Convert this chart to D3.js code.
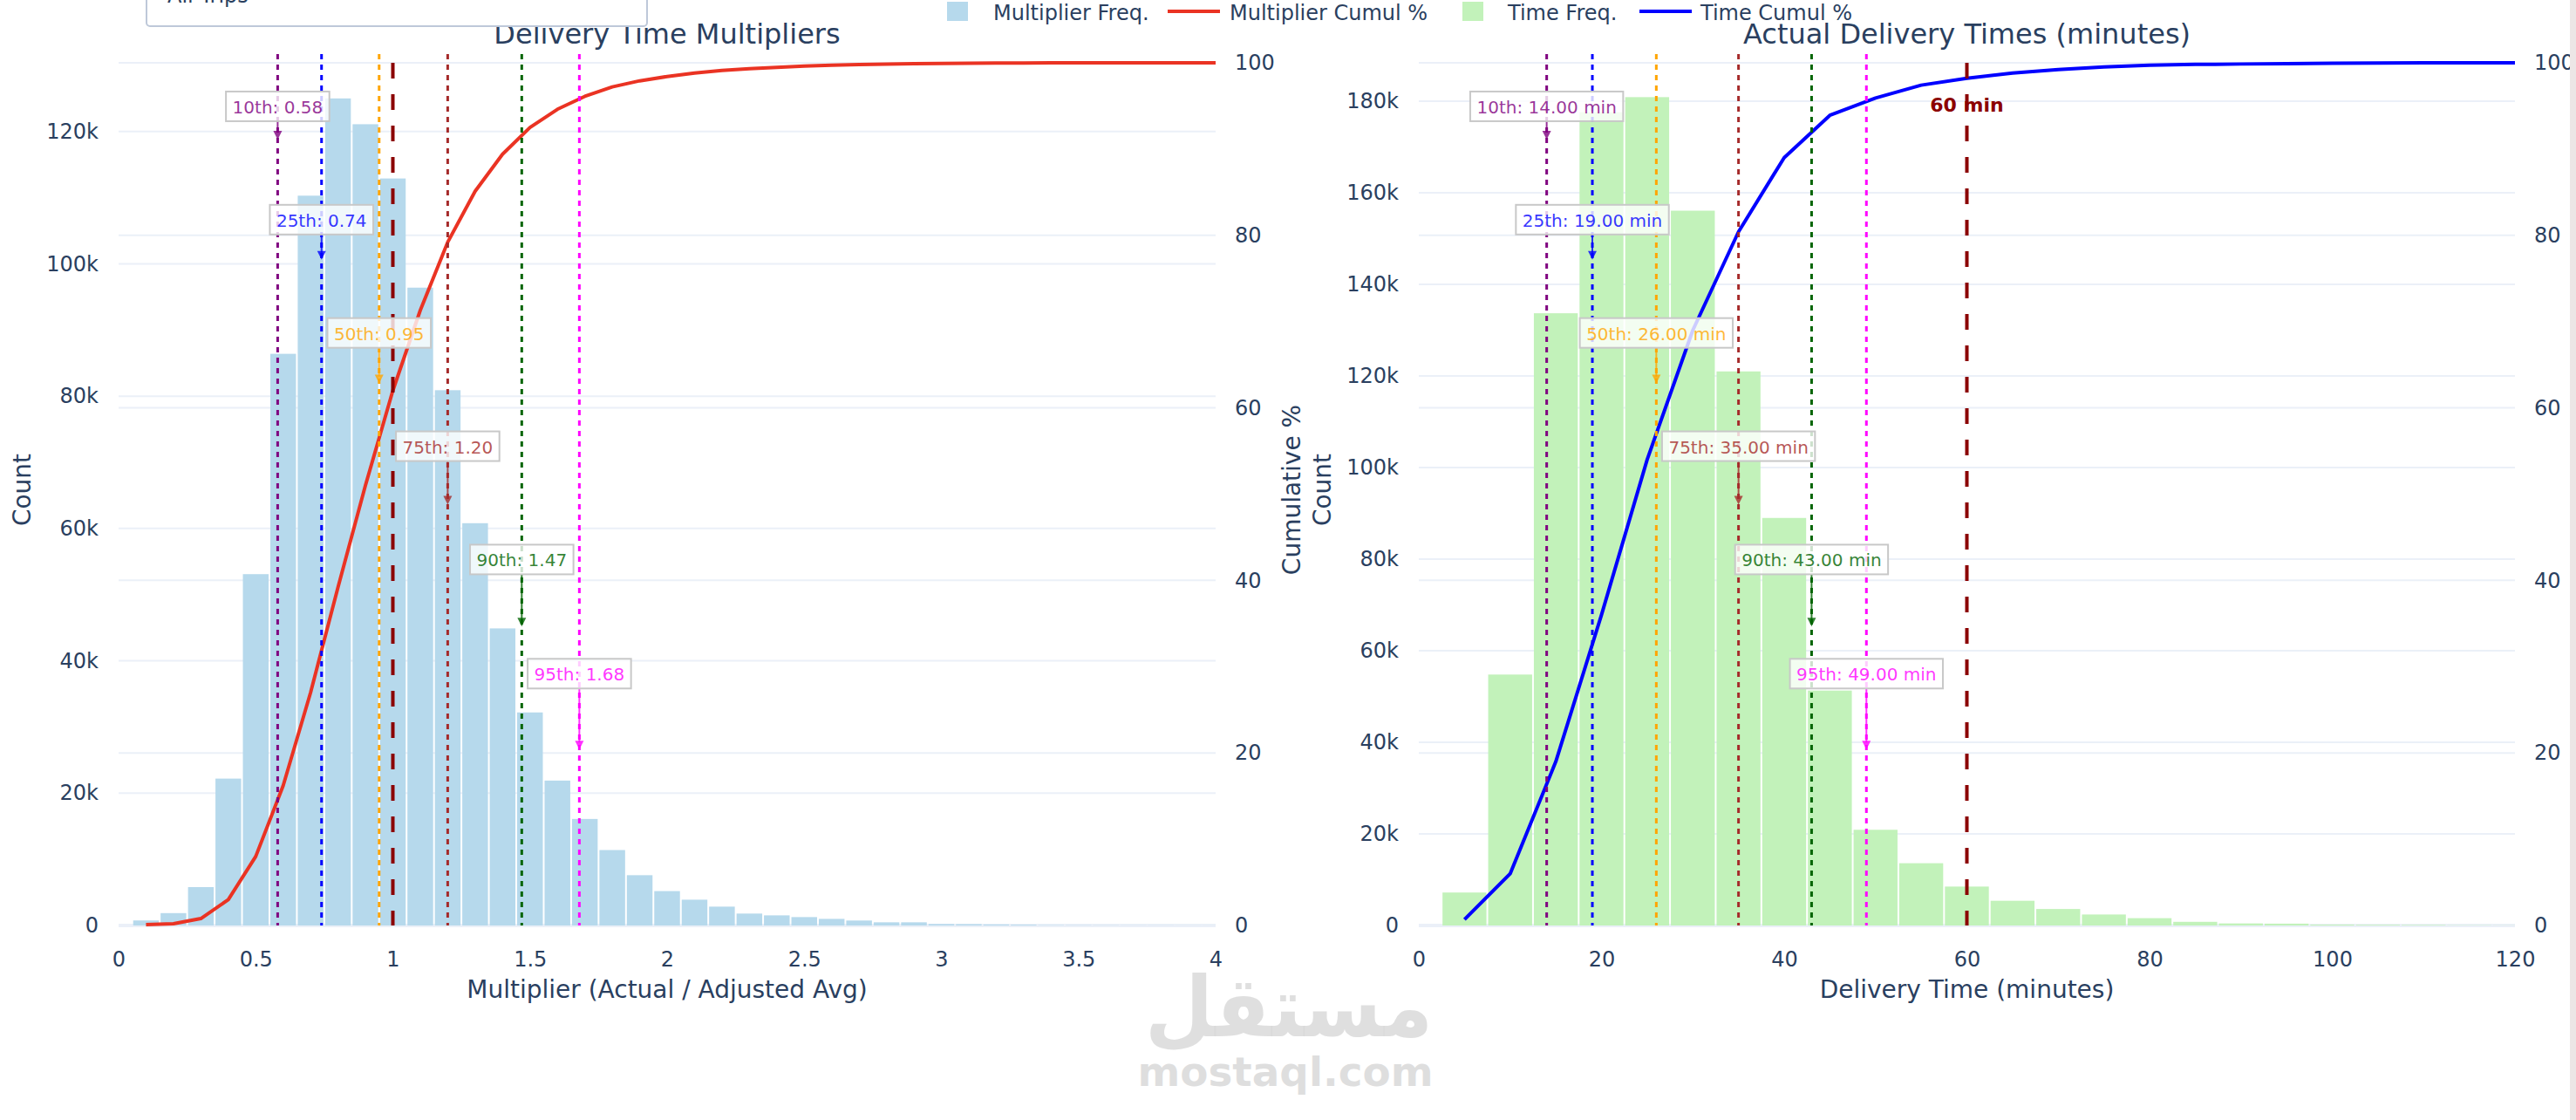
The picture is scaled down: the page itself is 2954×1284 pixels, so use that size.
<!DOCTYPE html>
<html><head><meta charset="utf-8">
<script src="https://cdn.jsdelivr.net/npm/d3@7"></script>
<style>
html,body{margin:0;padding:0;background:#fff;overflow:hidden;}
svg{display:block;}
</style></head><body>
<svg id="chart" width="2954" height="1284"></svg>
<script>
// ---------------- DATA ----------------
const multBinWidth = 0.1;
const multBinCenters = [0.1,0.2,0.3,0.4,0.5,0.6,0.7,0.8,0.9,1.0,1.1,1.2,1.3,1.4,1.5,1.6,1.7,1.8,1.9,2.0,2.1,2.2,2.3,2.4,2.5,2.6,2.7,2.8,2.9,3.0,3.1,3.2,3.3,3.4,3.5,3.6,3.7,3.8,3.9,4.0];
const multCounts = [760,1870,5800,22200,53100,86400,110300,125000,121100,112900,96400,80900,60800,44900,32200,21900,16100,11400,7600,5200,3900,2850,1800,1530,1270,1000,750,480,480,220,200,150,120,50,40,30,20,20,10,10];
const multCumPct = [0.1,0.2,0.8,3.0,8.0,16.2,27.0,39.2,51.0,62.0,71.3,79.2,85.1,89.4,92.5,94.6,96.1,97.2,97.9,98.4,98.8,99.1,99.3,99.45,99.6,99.7,99.78,99.84,99.88,99.92,99.94,99.96,99.97,99.98,99.985,99.99,99.99,99.995,100,100];

const timeBinWidth = 5;
const timeBinCenters = [5,10,15,20,25,30,35,40,45,50,55,60,65,70,75,80,85,90,95,100,105,110,115,120];
const timeCounts = [7200,54800,133700,177600,180900,156100,121000,89000,51300,20900,13600,8500,5400,3600,2400,1600,800,450,400,200,150,120,50,30];
const timeCumPct = [0.7,6.0,19.0,36.0,54.0,69.0,80.4,89.0,93.9,95.9,97.4,98.2,98.8,99.2,99.5,99.7,99.8,99.85,99.9,99.94,99.96,99.98,99.99,100];

const percentileNames = ["10th","25th","50th","75th","90th","95th"];
const multPercentiles = [0.58,0.74,0.95,1.20,1.47,1.68];
const timePercentiles = [14,19,26,35,43,49];
const multReference = 1.0;
const timeReference = 60;
const timeReferenceLabel = "60 min";

const multXTicks = [0,0.5,1,1.5,2,2.5,3,3.5,4];
const timeXTicks = [0,20,40,60,80,100,120];
const multYTicks = [0,20000,40000,60000,80000,100000,120000];
const timeYTicks = [0,20000,40000,60000,80000,100000,120000,140000,160000,180000];
const cumTicks = [0,20,40,60,80,100];

const panelTitles = ["Delivery Time Multipliers","Actual Delivery Times (minutes)"];
const xTitles = ["Multiplier (Actual / Adjusted Avg)","Delivery Time (minutes)"];
const legendNames = ["Multiplier Freq.","Multiplier Cumul %","Time Freq.","Time Cumul %"];
const dropdownLabel = "All Trips";

// ---------------- STYLE / LAYOUT ----------------
const FONT = '"DejaVu Sans", Verdana, sans-serif';
const TXT = "#2a3f5f";
const GRID = "#EBF0F8";
const TOP = 62, BOTTOM = 1061;
const pctColors = ["#800080","#0000FF","#FFA500","#A52A2A","#006400","#FF00FF"];
const annTipFrac = [0.098,0.236,0.378,0.517,0.657,0.798];
const annBoxFrac = [0.060,0.190,0.320,0.450,0.580,0.711];

const svg = d3.select("#chart");
svg.append("rect").attr("width",2954).attr("height",1284).attr("fill","#fff");

function drawPanel(cfg){
  const x = d3.scaleLinear().domain(cfg.xDomain).range([cfg.x0, cfg.x1]);
  const y = d3.scaleLinear().domain([0, cfg.yMax]).range([BOTTOM, TOP]);
  const y2 = d3.scaleLinear().domain([0, 101]).range([BOTTOM, TOP]);
  const g = svg.append("g");
  const clipId = "clip" + cfg.id;
  svg.append("clipPath").attr("id", clipId).append("rect")
    .attr("x", cfg.x0).attr("y", TOP - 12).attr("width", cfg.x1 - cfg.x0).attr("height", BOTTOM - TOP + 14);

  // grid
  const grid = g.append("g");
  grid.selectAll(".gy").data(cfg.yTicks.filter(d => d > 0)).join("line")
    .attr("x1", cfg.x0).attr("x2", cfg.x1).attr("y1", d => y(d)).attr("y2", d => y(d))
    .attr("stroke", GRID).attr("stroke-width", 2);
  grid.selectAll(".gy2").data(cumTicks.filter(d => d > 0)).join("line")
    .attr("x1", cfg.x0).attr("x2", cfg.x1).attr("y1", d => y2(d)).attr("y2", d => y2(d))
    .attr("stroke", GRID).attr("stroke-width", 2);
  grid.append("line").attr("x1", cfg.x0).attr("x2", cfg.x1).attr("y1", y(0)).attr("y2", y(0))
    .attr("stroke", GRID).attr("stroke-width", 4);

  // bars
  g.append("g").attr("clip-path", `url(#${clipId})`)
    .selectAll("rect").data(cfg.centers.map((c, i) => ({c, v: cfg.counts[i]}))).join("rect")
    .attr("x", d => x(d.c - cfg.binW / 2) + 1)
    .attr("width", d => Math.max(0, x(d.c + cfg.binW / 2) - x(d.c - cfg.binW / 2) - 2))
    .attr("y", d => y(d.v)).attr("height", d => y(0) - y(d.v))
    .attr("fill", cfg.barColor);

  // axes
  const ax = g.append("g").attr("transform", `translate(0,${BOTTOM})`)
    .call(d3.axisBottom(x).tickValues(cfg.xTicks).tickFormat(d3.format("~g")).tickSize(0).tickPadding(30));
  const ay = g.append("g").attr("transform", `translate(${cfg.x0},0)`)
    .call(d3.axisLeft(y).tickValues(cfg.yTicks).tickFormat(d3.format("~s")).tickSize(0).tickPadding(23));
  const ay2 = g.append("g").attr("transform", `translate(${cfg.x1},0)`)
    .call(d3.axisRight(y2).tickValues(cumTicks).tickFormat(d3.format("d")).tickSize(0).tickPadding(22));
  [ax, ay, ay2].forEach(a => {
    a.select(".domain").remove();
    a.selectAll("text").attr("font-family", FONT).attr("font-size", 24).attr("fill", TXT);
  });

  // cumulative line
  g.append("path").datum(cfg.centers.map((c, i) => [c, cfg.cum[i]]))
    .attr("clip-path", `url(#${clipId})`)
    .attr("d", d3.line().x(d => x(d[0])).y(d => y2(d[1])))
    .attr("fill", "none").attr("stroke", cfg.lineColor).attr("stroke-width", 4)
    .attr("stroke-linejoin", "round");

  // percentile lines
  g.selectAll(".pl").data(cfg.pcts).join("line")
    .attr("x1", d => x(d)).attr("x2", d => x(d)).attr("y1", TOP).attr("y2", BOTTOM)
    .attr("stroke", (d, i) => pctColors[i]).attr("stroke-width", 3).attr("stroke-dasharray", "6,6");

  // reference line
  g.append("line").attr("x1", x(cfg.ref)).attr("x2", x(cfg.ref)).attr("y1", y2(100)).attr("y2", BOTTOM)
    .attr("stroke", "#8B0000").attr("stroke-width", 4).attr("stroke-dasharray", "18,18");

  // annotations
  const H = BOTTOM - TOP;
  cfg.pcts.forEach((p, i) => {
    const cx = x(p);
    const cy = TOP + annBoxFrac[i] * H;
    const tip = TOP + annTipFrac[i] * H;
    const ag = g.append("g");
    const label = `${percentileNames[i]}: ${cfg.fmt(p)}`;
    ag.append("line").attr("x1", cx).attr("x2", cx).attr("y1", cy + 17).attr("y2", tip - 8)
      .attr("stroke", pctColors[i]).attr("stroke-opacity", 0.8).attr("stroke-width", 2);
    ag.append("path").attr("d", `M${cx - 5},${tip - 10}L${cx + 5},${tip - 10}L${cx},${tip}Z`)
      .attr("fill", pctColors[i]).attr("fill-opacity", 0.8);
    const rect = ag.append("rect");
    const t = ag.append("text").attr("x", cx).attr("y", cy + 8).attr("text-anchor", "middle")
      .attr("font-family", FONT).attr("font-size", 20).attr("fill", pctColors[i]).attr("fill-opacity", 0.8)
      .text(label);
    const w = t.node().getComputedTextLength() + 15;
    rect.attr("x", cx - w / 2).attr("y", cy - 17).attr("width", w).attr("height", 34)
      .attr("fill", "#fff").attr("fill-opacity", 0.8).attr("stroke", "#c8c8c8").attr("stroke-width", 2);
  });

  if (cfg.refLabel) {
    g.append("text").attr("x", x(cfg.ref)).attr("y", 128).attr("text-anchor", "middle")
      .attr("font-family", FONT).attr("font-weight", 700).attr("font-size", 22).attr("fill", "#8B0000")
      .text(cfg.refLabel);
  }

  // titles
  const mid = (cfg.x0 + cfg.x1) / 2;
  svg.append("text").attr("x", mid).attr("y", 50).attr("text-anchor", "middle")
    .attr("font-family", FONT).attr("font-size", 32).attr("fill", TXT).text(cfg.title);
  svg.append("text").attr("x", mid).attr("y", 1144).attr("text-anchor", "middle")
    .attr("font-family", FONT).attr("font-size", 28).attr("fill", TXT).text(cfg.xTitle);
  svg.append("text").attr("transform", `translate(${cfg.yTitleX},${(TOP + BOTTOM) / 2}) rotate(-90)`)
    .attr("text-anchor", "middle").attr("dominant-baseline", "central")
    .attr("font-family", FONT).attr("font-size", 28).attr("fill", TXT).text("Count");
  if (cfg.y2TitleX) {
    svg.append("text").attr("transform", `translate(${cfg.y2TitleX},${(TOP + BOTTOM) / 2}) rotate(-90)`)
      .attr("text-anchor", "middle").attr("dominant-baseline", "central")
      .attr("font-family", FONT).attr("font-size", 28).attr("fill", TXT).text("Cumulative %");
  }
}

drawPanel({
  id: "L", x0: 136, x1: 1394, xDomain: [0, 4], yMax: 131700,
  centers: multBinCenters, counts: multCounts, cum: multCumPct, binW: multBinWidth,
  xTicks: multXTicks, yTicks: multYTicks, pcts: multPercentiles, ref: multReference,
  barColor: "#B6D9EC", lineColor: "#EA3323", fmt: d3.format(".2f"),
  title: panelTitles[0], xTitle: xTitles[0], yTitleX: 25, y2TitleX: 1481
});
drawPanel({
  id: "R", x0: 1627, x1: 2884, xDomain: [0, 120], yMax: 190300,
  centers: timeBinCenters, counts: timeCounts, cum: timeCumPct, binW: timeBinWidth,
  xTicks: timeXTicks, yTicks: timeYTicks, pcts: timePercentiles, ref: timeReference,
  barColor: "#C2F2BA", lineColor: "#0000FF", fmt: v => d3.format(".2f")(v) + " min",
  refLabel: timeReferenceLabel,
  title: panelTitles[1], xTitle: xTitles[1], yTitleX: 1516
});

// legend
const legend = svg.append("g").attr("font-family", FONT).attr("font-size", 24).attr("fill", TXT);
const legItems = [
  {type: "box", color: "#B6D9EC", sx: 1086, tx: 1139},
  {type: "line", color: "#EA3323", sx: 1339, tx: 1410},
  {type: "box", color: "#C2F2BA", sx: 1677, tx: 1729},
  {type: "line", color: "#0000FF", sx: 1880, tx: 1950}
];
legItems.forEach((it, i) => {
  if (it.type === "box") {
    legend.append("rect").attr("x", it.sx).attr("y", 2).attr("width", 24).attr("height", 22).attr("fill", it.color);
  } else {
    legend.append("line").attr("x1", it.sx).attr("x2", it.sx + 60).attr("y1", 13).attr("y2", 13)
      .attr("stroke", it.color).attr("stroke-width", 4);
  }
  legend.append("text").attr("x", it.tx).attr("y", 22.5).text(legendNames[i]);
});

// dropdown (cut at top)
svg.append("rect").attr("x", 168).attr("y", -12).attr("width", 574).attr("height", 42).attr("rx", 4)
  .attr("fill", "#fff").attr("stroke", "#BEC8D9").attr("stroke-width", 2);
svg.append("text").attr("x", 192).attr("y", 3).attr("font-family", FONT).attr("font-size", 24)
  .attr("fill", TXT).text(dropdownLabel);

// watermark
svg.append("text").attr("x", 1478).attr("y", 1188).attr("text-anchor", "middle")
  .attr("font-family", '"DejaVu Sans", sans-serif').attr("font-weight", 700).attr("font-size", 96)
  .attr("fill", "#d9d9d9").attr("fill-opacity", 0.85)
  .attr("textLength", 330).attr("lengthAdjust", "spacingAndGlyphs").text("مستقل");
svg.append("text").attr("x", 1474).attr("y", 1245).attr("text-anchor", "middle")
  .attr("font-family", '"DejaVu Sans", sans-serif').attr("font-weight", 700).attr("font-size", 46)
  .attr("fill", "#d9d9d9").attr("fill-opacity", 0.85)
  .attr("textLength", 339).attr("lengthAdjust", "spacingAndGlyphs").text("mostaql.com");

// right edge bar
svg.append("rect").attr("x", 2947).attr("y", 0).attr("width", 7).attr("height", 1284).attr("fill", "#ECE6E6");
</script>
</body></html>
